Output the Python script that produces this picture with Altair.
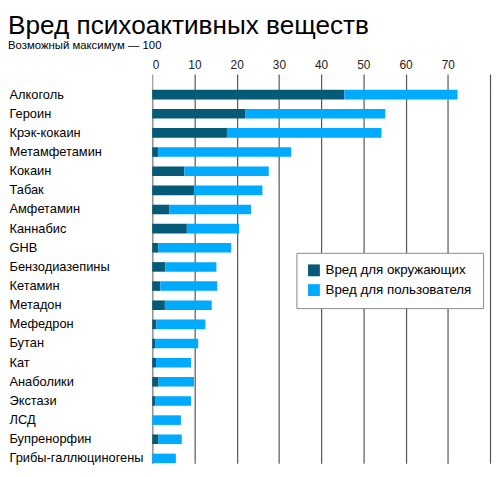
import altair as alt
import pandas as pd

drugs = ["Алкоголь", "Героин", "Крэк-кокаин", "Метамфетамин", "Кокаин", "Табак",
         "Амфетамин", "Каннабис", "GHB", "Бензодиазепины", "Кетамин", "Метадон",
         "Мефедрон", "Бутан", "Кат", "Анаболики", "Экстази", "ЛСД", "Бупренорфин",
         "Грибы-галлюциногены"]
harm_others = [45.5, 22, 17.7, 1.4, 7.6, 9.9, 4.1, 8.2, 1.5, 3.1, 1.9, 3.0,
               1.0, 0.8, 0.9, 1.5, 0.8, 0, 1.5, 0]
harm_users = [26.8, 33.2, 36.6, 31.5, 20.0, 16.2, 19.3, 12.4, 17.2, 12.1, 13.5, 11.1,
              11.6, 10.1, 8.3, 8.4, 8.4, 6.8, 5.5, 5.6]
series = ["Вред для окружающих", "Вред для пользователя"]
colors = ["#055a78", "#00aaff"]
ticks = [0, 10, 20, 30, 40, 50, 60, 70, 80]

rows = []
for d, o, u in zip(drugs, harm_others, harm_users):
    rows.append({"drug": d, "type": series[0], "value": o, "ord": 0})
    rows.append({"drug": d, "type": series[1], "value": u, "ord": 1})
df = pd.DataFrame(rows)

FONT = "Liberation Sans"

chart = alt.Chart(df).mark_bar().encode(
    y=alt.Y("drug:N", sort=drugs, title=None,
            scale=alt.Scale(paddingInner=0.5, paddingOuter=0),
            axis=alt.Axis(labelAlign="left", labelPadding=145, ticks=False, tickSize=0,
                          labelFontSize=13, labelColor="#000", labelFont=FONT,
                          domainColor="#999", domainWidth=1.5, grid=False)),
    x=alt.X("value:Q", stack="zero", title=None,
            scale=alt.Scale(domain=[0, 80], nice=False),
            axis=alt.Axis(orient="top", values=ticks,
                          labelExpr="datum.value == 80 ? '' : datum.label",
                          tickSize=16, labelPadding=3, domain=False,
                          labelFontSize=12, labelColor="#222", labelFont=FONT,
                          grid=True,
                          gridColor={"condition": {"test": "datum.value === 0", "value": "#999"}, "value": "#555"},
                          tickColor={"condition": {"test": "datum.value === 0", "value": "#999"}, "value": "#555"},
                          gridOpacity=1, gridWidth=1.2, tickWidth=1.2)),
    color=alt.Color("type:N", scale=alt.Scale(domain=series, range=colors),
                    legend=alt.Legend(title=None, orient="none", legendX=146, legendY=165,
                                      fillColor="white", strokeColor="#888",
                                      padding=11, symbolType="square", symbolSize=144,
                                      symbolStrokeWidth=0, labelFontSize=13.5, labelOffset=5,
                                      labelFont=FONT, labelColor="#000", rowPadding=5)),
    order=alt.Order("ord:Q"),
).properties(
    width=342,
    height=378,
    autosize=alt.AutoSizeParams(type="none"),
    padding={"left": 146, "top": 80, "right": 2, "bottom": 0},
    title=alt.TitleParams(
        text="Вред психоактивных веществ",
        subtitle="Возможный максимум — 100",
        anchor="start", frame="group", dx=-146,
        fontSize=26.5, fontWeight="normal", font=FONT, color="#000",
        subtitleFontSize=11.5, subtitleFont=FONT, subtitleColor="#000",
        subtitlePadding=1, offset=7,
    ),
).configure_view(stroke=None)

chart.save("out.html", embed_options={"renderer": "svg", "actions": False})
